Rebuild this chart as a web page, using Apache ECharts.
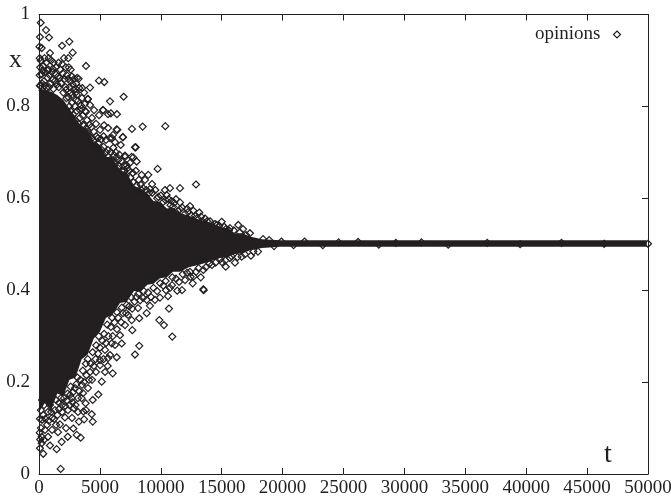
<!DOCTYPE html>
<html>
<head>
<meta charset="utf-8">
<title>opinions</title>
<script src="https://cdn.jsdelivr.net/npm/echarts@6/dist/echarts.min.js"></script>
<style>
html, body { margin: 0; padding: 0; background: #fff; }
#main { width: 671px; height: 497px; }
</style>
</head>
<body>
<div id="main"></div>
<script>
var xTicks = [0, 5000, 10000, 15000, 20000, 25000, 30000, 35000, 40000, 45000, 50000];
var yTicks = [0, 0.2, 0.4, 0.6, 0.8, 1];

// solid black core, too dense to read single points: [t, top, bottom]
var coreT    = [0,    500,  1000, 1500, 2000, 2500, 3000, 3500, 4000, 4500, 5010, 5500, 6000, 6650, 7200, 7800, 8290, 8900, 9400, 9930, 10500,11000,11575,12300,13220,14000,14860,15500,16090,16700,17320,18300,19790,49900];
var coreHigh = [0.840,0.835,0.832,0.825,0.814,0.795,0.775,0.755,0.748,0.722,0.716,0.690,0.690,0.661,0.655,0.628,0.620,0.610,0.594,0.592,0.578,0.580,0.568,0.562,0.553,0.546,0.538,0.534,0.524,0.524,0.517,0.511,0.5085,0.5085];
var coreLow  = [0.135,0.155,0.140,0.175,0.170,0.205,0.210,0.250,0.260,0.295,0.310,0.340,0.346,0.372,0.375,0.398,0.396,0.412,0.414,0.426,0.428,0.440,0.440,0.450,0.456,0.462,0.470,0.472,0.479,0.480,0.487,0.492,0.4945,0.4945];

// single diamonds above the core
var upperPoints = [
	[140,0.982],[575,0.966],[820,0.950],[80,0.951],[1890,0.932],[2490,0.941],[2765,0.917],[220,0.927],[900,0.916],
	[150,0.900],[100,0.885],[220,0.870],[120,0.845],[300,0.835],[450,0.905],[600,0.895],[800,0.905],[1000,0.900],
	[1200,0.895],[500,0.875],[780,0.880],[1050,0.875],[1400,0.885],[1600,0.895],[1750,0.880],[2050,0.905],[1550,0.865],
	[1300,0.855],[950,0.850],[600,0.840],[1800,0.850],[2200,0.885],[2400,0.905],[2450,0.885],[2100,0.860],[2400,0.860],
	[2600,0.855],[2700,0.865],[2900,0.860],[3050,0.850],[3250,0.860],[3300,0.840],[2000,0.830],[2600,0.830],[2850,0.835],
	[3100,0.825],[3550,0.840],[3700,0.830],[3860,0.888],[4925,0.856],[5360,0.853],[4190,0.841],[3130,0.862],[5830,0.811],
	[6950,0.821],[4000,0.816],[5270,0.792],[6400,0.783],[5900,0.785],[7630,0.751],[8510,0.756],[10370,0.757],[6375,0.750],
	[7880,0.711],[6900,0.733],[7060,0.693],[7600,0.690],[8020,0.680],[9740,0.664],
	[4020,0.816],[4190,0.803],[3860,0.788],[4520,0.792],[4930,0.781],[5340,0.759],[4680,0.762],[4350,0.775],[5010,0.749],
	[5670,0.753],[5990,0.731],[5500,0.727],[4840,0.731],[5250,0.792],[5670,0.783],[3700,0.759],[4020,0.744],[4350,0.731],
	[4600,0.716],[5170,0.705],[5670,0.705],[6160,0.694],[6490,0.665],[5830,0.683],[3370,0.792],[3040,0.814],[3530,0.818],
	[2710,0.825],[2220,0.836],[3040,0.831],[3000,0.770],[3600,0.780],[2600,0.790],[2900,0.750],[3400,0.745],[3800,0.720],
	[6430,0.749],[6080,0.738],[6870,0.733],[6710,0.716],[6240,0.722],[5830,0.731],[7940,0.711],[7060,0.690],[7740,0.689],
	[7250,0.665],[6490,0.683],[6980,0.672],[7470,0.677],[8430,0.651],[8970,0.651],[8700,0.640],[9280,0.631],[12890,0.630],
	[11575,0.622],[10750,0.622],[10340,0.618],[9110,0.620],[8230,0.614],[9800,0.603],[10480,0.607],[11250,0.598],[11575,0.591],
	[10890,0.594],[12170,0.577],[11575,0.576],[12670,0.573],[13160,0.569],[13630,0.556],[15000,0.549],[14450,0.544],[16360,0.542],
	[16750,0.533],[15680,0.535],[17320,0.524],[14040,0.550],[15350,0.533],[12400,0.583],
	// thick fringe where the diamonds pile up against the core
	[420,0.855],[700,0.862],[880,0.868],[1120,0.858],[1480,0.848],[1720,0.862],[1950,0.872],[2280,0.868],[60,0.868],[60,0.905],
	[70,0.845],[240,0.850],[460,0.845],[820,0.842],[1180,0.838],[1620,0.842],[2180,0.842],[2520,0.842],[2760,0.848],[3020,0.838],
	[360,0.888],[700,0.878],[1130,0.882],[1900,0.892],[40,0.930],[300,0.878],[1380,0.870],[2600,0.880],
	[2420,0.820],[2700,0.808],[2950,0.800],[3200,0.812],[3450,0.802],[2500,0.800],[2250,0.818],[3100,0.790],[3350,0.775],[3600,0.760],
	[2800,0.782],[3800,0.790],[3950,0.770],[4150,0.760],[3250,0.762],[3500,0.795],[3750,0.805],[2650,0.778],[3850,0.745],
	[4100,0.735],[4300,0.755],[4500,0.745],[4700,0.735],[4250,0.720],[4480,0.725],[4900,0.720],[5100,0.728],[5300,0.735],[4750,0.710],
	[5000,0.700],[5300,0.712],[5500,0.700],[5700,0.690],[5400,0.685],[5250,0.695],[5900,0.700],[6100,0.710],[6300,0.700],[5950,0.672],
	[6200,0.678],[6400,0.690],[6600,0.695],[6800,0.680],[6250,0.665],[6550,0.670],[7000,0.660],[7200,0.672],[7400,0.660],[6800,0.660],
	[7100,0.648],[7500,0.645],[7700,0.655],[7950,0.660],[8200,0.640],[7750,0.635],[8000,0.628],[8350,0.630],[8550,0.622],[8800,0.618],
	[8400,0.618],[9050,0.612],[9300,0.612],[9550,0.618],[9700,0.600],[10000,0.606],[10200,0.592],[10400,0.596],[10650,0.598],[10800,0.585],
	[11000,0.582],[11100,0.590],[11400,0.572],[11750,0.580],[12000,0.566],[12250,0.570],[12500,0.563],[12800,0.562],[13000,0.557],[13300,0.560],
	[13500,0.548],[13800,0.550],[14200,0.541],[14600,0.542],[14800,0.540],[15200,0.538],[15600,0.530],[16000,0.530],[16500,0.526],[17000,0.520]
];

// single diamonds below the core
var lowerPoints = [
	[16090,0.460],[15330,0.451],[16640,0.473],[17400,0.475],[17980,0.484],[13490,0.402],[13520,0.400],[13490,0.444],[13280,0.428],
	[12620,0.415],[12450,0.429],[11350,0.399],[10430,0.400],[9930,0.384],[10670,0.360],[8840,0.350],[9880,0.335],[10260,0.324],
	[10940,0.299],[8230,0.339],[7660,0.313],[6790,0.284],[8230,0.279],[7880,0.260],[6380,0.254],[6050,0.219],[5640,0.235],
	[5830,0.259],[5970,0.284],[8840,0.379],[7610,0.335],[9110,0.366],[9520,0.379],[7060,0.324],[6650,0.302],[6240,0.281],
	[5420,0.270],[5010,0.248],[7310,0.346],[8130,0.361],[10920,0.411],[11990,0.422],[12890,0.440],[14200,0.455],[15020,0.461],
	[15680,0.470],[11740,0.400],[10590,0.387],[8540,0.383],
	[4870,0.173],[4410,0.161],[3830,0.154],[5150,0.201],[4330,0.130],[4410,0.114],[3700,0.119],[3280,0.114],[3420,0.079],
	[3100,0.085],[2820,0.099],[2360,0.081],[1860,0.070],[1450,0.054],[900,0.062],[350,0.044],[80,0.056],[1780,0.011],
	[1640,0.141],[2130,0.123],[1720,0.108],[1400,0.107],[2870,0.143],[3640,0.136],[3610,0.176],[2960,0.187],[2680,0.165],
	[220,0.081],[220,0.067],[490,0.096],[250,0.118],[160,0.139],[660,0.107],[1070,0.122],[410,0.150],[900,0.150],
	[1310,0.139],[740,0.135],[1890,0.150],[2380,0.139],[2050,0.165],[3200,0.165],[4020,0.187],[4350,0.205],[4680,0.222],
	[5010,0.237],[4190,0.222],[3530,0.194],[2550,0.172],[1400,0.161],[575,0.172],[250,0.161],[5420,0.222],[5660,0.252],
	[3860,0.139],[3200,0.135],[2710,0.122],[2220,0.100],[410,0.074],[740,0.081],[160,0.100],[1070,0.096],[1560,0.091],
	// thick fringe where the diamonds pile up against the core
	[80,0.120],[60,0.090],[100,0.075],[350,0.128],[520,0.120],[800,0.116],[1000,0.135],[1250,0.120],[1500,0.128],[1650,0.155],
	[1900,0.135],[2150,0.148],[2300,0.160],[2500,0.150],[2750,0.156],[2800,0.178],[3000,0.150],[3300,0.180],[3500,0.165],[3050,0.195],
	[2600,0.190],[2350,0.175],[1800,0.165],[3400,0.205],[3700,0.200],[3900,0.215],[3150,0.210],[3600,0.225],[3850,0.240],[4100,0.205],
	[4250,0.240],[4500,0.235],[4000,0.250],[4400,0.265],[4650,0.250],[4850,0.262],[4700,0.280],[5000,0.275],[5200,0.290],[4900,0.300],
	[5300,0.250],[5500,0.285],[5350,0.305],[5700,0.300],[5900,0.320],[5600,0.325],[6050,0.300],[6200,0.330],[6000,0.340],[6400,0.315],
	[6500,0.340],[6750,0.330],[6400,0.352],[6900,0.350],[6800,0.362],[7150,0.350],[7400,0.365],[7200,0.368],[7650,0.360],[7850,0.375],
	[7550,0.385],[8000,0.385],[8300,0.378],[8150,0.392],[8600,0.398],[8950,0.395],[9200,0.385],[9400,0.405],[9700,0.398],[9950,0.415],
	[10200,0.410],[10400,0.420],[10750,0.405],[10950,0.428],[11250,0.425],[11500,0.418],[11800,0.435],[12150,0.438],[12400,0.440],[12700,0.430],
	[13100,0.448],[13700,0.450],[14000,0.458],[14500,0.460],[14900,0.468],[15300,0.465],[15800,0.474],[16300,0.472],[16900,0.478],[17600,0.484]
];

// the settled opinions after t = 18000, only the few that poke out of the band
var flatPoints = [
	[18400,0.511],[18900,0.509],[19300,0.496],[19900,0.506],[20900,0.498],[21800,0.506],[23300,0.498],[24600,0.504],[26200,0.505],
	[27900,0.499],[29300,0.503],[31400,0.504],[33600,0.499],[36800,0.503],[39500,0.500],[42900,0.503],[46400,0.501],[50000,0.501]
];

var opinions = upperPoints.concat(lowerPoints, flatPoints);

var inkColor = '#231f20';
var labelFont = '"Liberation Serif", "Times New Roman", serif';

function plainNumber(value) {
	return String(value);
}

function makeXAxis(isTop) {
	return {
		type: 'value',
		position: isTop ? 'top' : 'bottom',
		min: xTicks[0],
		max: xTicks[xTicks.length - 1],
		interval: 5000,
		splitLine: { show: false },
		axisLine: { show: true, onZero: false, lineStyle: { color: inkColor, width: 1 } },
		axisTick: { show: true, inside: true, length: 6, lineStyle: { color: inkColor, width: 1 } },
		axisLabel: {
			show: !isTop,
			color: inkColor,
			fontFamily: labelFont,
			fontSize: 19,
			margin: 5,
			hideOverlap: false,
			showMinLabel: true,
			showMaxLabel: true,
			formatter: plainNumber
		}
	};
}

function makeYAxis(isRight) {
	return {
		type: 'value',
		position: isRight ? 'right' : 'left',
		min: yTicks[0],
		max: yTicks[yTicks.length - 1],
		interval: 0.2,
		splitLine: { show: false },
		axisLine: { show: true, onZero: false, lineStyle: { color: inkColor, width: 1 } },
		axisTick: { show: true, inside: true, length: 6, lineStyle: { color: inkColor, width: 1 } },
		axisLabel: {
			show: !isRight,
			color: inkColor,
			fontFamily: labelFont,
			fontSize: 19,
			margin: 9,
			showMinLabel: true,
			showMaxLabel: true,
			formatter: plainNumber
		}
	};
}

var myChart = echarts.init(document.getElementById('main'), null, { renderer: 'canvas' });

myChart.setOption({
	animation: false,
	backgroundColor: '#ffffff',
	grid: { left: 39, top: 14.5, width: 609, height: 459.5, containLabel: false, outerBoundsMode: 'none' },
	xAxis: [makeXAxis(false), makeXAxis(true)],
	yAxis: [makeYAxis(false), makeYAxis(true)],
	legend: {
		data: [{ name: 'opinions', icon: 'diamond' }],
		align: 'right',
		right: 48,
		top: 25,
		padding: 0,
		itemWidth: 7,
		itemHeight: 7,
		itemStyle: { color: 'none', borderColor: inkColor, borderWidth: 1.2 },
		textStyle: { color: inkColor, fontFamily: labelFont, fontSize: 19, padding: [0, 8, 0, 0] }
	},
	graphic: [
		{ type: 'text', left: 9, top: 47, style: { text: 'x', fill: inkColor, font: '26px ' + labelFont } },
		{ type: 'text', left: 604, top: 441, style: { text: 't', fill: inkColor, font: '28px ' + labelFont } }
	],
	series: [
		{
			type: 'custom',
			silent: true,
			clip: false,
			z: 1,
			data: [0],
			renderItem: function(params, api) {
				var points = [];
				for (var i = 0; i < coreT.length; i++) {
					points.push(api.coord([coreT[i], coreHigh[i]]));
				}
				for (var j = coreT.length - 1; j >= 0; j--) {
					points.push(api.coord([coreT[j], coreLow[j]]));
				}
				return { type: 'polygon', shape: { points: points }, style: { fill: inkColor } };
			}
		},
		{
			name: 'opinions',
			type: 'scatter',
			clip: false,
			z: 2,
			symbol: 'diamond',
			symbolSize: 7,
			data: opinions,
			itemStyle: { color: 'none', borderColor: inkColor, borderWidth: 1.2, opacity: 1 }
		}
	]
});
</script>
</body>
</html>
